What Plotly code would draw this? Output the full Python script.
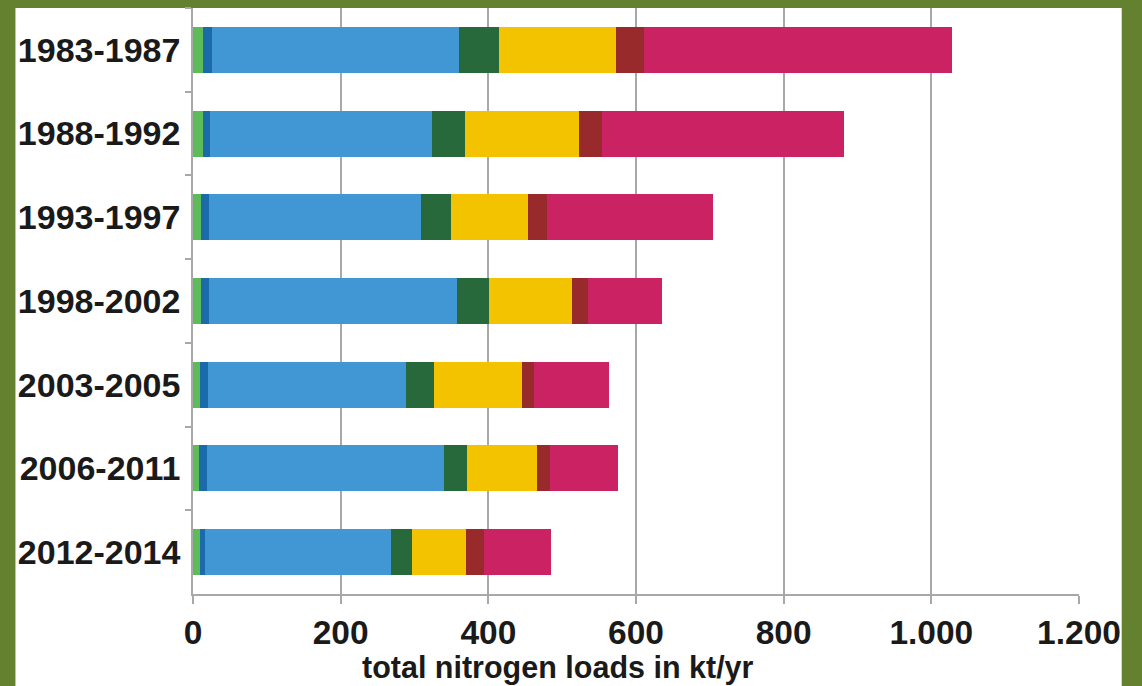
import plotly.graph_objects as go

# Periods (top to bottom)
periods = ["1983-1987", "1988-1992", "1993-1997", "1998-2002",
           "2003-2005", "2006-2011", "2012-2014"]

# Nitrogen load components per period, kt/yr (stacked left to right)
load_a = [13.5, 13.5, 10.8, 11.2, 9.9, 8.5, 9.0]          # light green
load_b = [11.7, 9.0, 10.3, 10.8, 10.4, 9.9, 7.6]          # dark blue
load_c = [335.7, 301.8, 287.5, 335.3, 268.4, 321.2, 252.0]  # light blue
load_d = [53.3, 44.3, 41.0, 43.3, 38.3, 31.3, 28.5]       # dark green
load_e = [158.8, 154.3, 103.8, 113.2, 119.1, 94.7, 73.2]  # yellow
load_f = [37.9, 31.1, 25.8, 20.8, 15.9, 18.0, 23.4]       # brown
load_g = [417.3, 328.0, 225.5, 101.0, 102.0, 92.4, 90.6]  # magenta

x_tickvals = [0, 200, 400, 600, 800, 1000, 1200]
x_ticktext = ["0", "200", "400", "600", "800", "1.000", "1.200"]

series = [
    (load_a, "#5DBB5A"),
    (load_b, "#1B6BAA"),
    (load_c, "#4197D4"),
    (load_d, "#27693A"),
    (load_e, "#F4C300"),
    (load_f, "#992A2C"),
    (load_g, "#CB2264"),
]

fig = go.Figure()
for vals, col in series:
    fig.add_trace(go.Bar(
        y=periods, x=vals, orientation="h",
        marker=dict(color=col, line=dict(width=0)),
        showlegend=False,
    ))

font_family = "Liberation Sans, Arial, sans-serif"

fig.update_layout(
    width=1142, height=686,
    margin=dict(l=193, r=63, t=8, b=92),
    barmode="stack", bargap=0.45,
    paper_bgcolor="#63812F",
    plot_bgcolor="rgba(0,0,0,0)",
    font=dict(family=font_family, color="#1A1A1A"),
    xaxis=dict(
        range=[0, 1200], tickvals=x_tickvals, ticktext=x_ticktext,
        showgrid=True, gridcolor="#A8A8A8", gridwidth=1.5,
        zeroline=False,
        showline=True, linecolor="#A8A8A8", linewidth=1.5,
        ticks="outside", ticklen=8, tickcolor="#A8A8A8", tickwidth=1.5,
        tickfont=dict(size=33.5, family=font_family, color="#1A1A1A",
                      weight="bold"),
    ),
    yaxis=dict(
        autorange="reversed", type="category",
        showgrid=False, zeroline=False,
        showline=True, linecolor="#A8A8A8", linewidth=1.5,
        ticks="outside", ticklen=6, tickcolor="#A8A8A8", tickwidth=1.5,
        tickson="boundaries", ticklabelstandoff=4,
        tickfont=dict(size=34, family=font_family, color="#1A1A1A",
                      weight="bold"),
    ),
    shapes=[dict(
        type="rect", xref="paper", yref="paper", layer="below",
        x0=-0.2004, x1=1.0482, y0=-0.2, y1=1.0,
        fillcolor="white", line=dict(width=0),
    )],
    annotations=[dict(
        text="total nitrogen loads in kt/yr", showarrow=False,
        xref="paper", yref="paper", x=0.4115, y=-0.126,
        xanchor="center", yanchor="middle",
        font=dict(size=30.5, family=font_family, color="#1A1A1A",
                  weight="bold"),
    )],
)

fig.write_html("out.html")
